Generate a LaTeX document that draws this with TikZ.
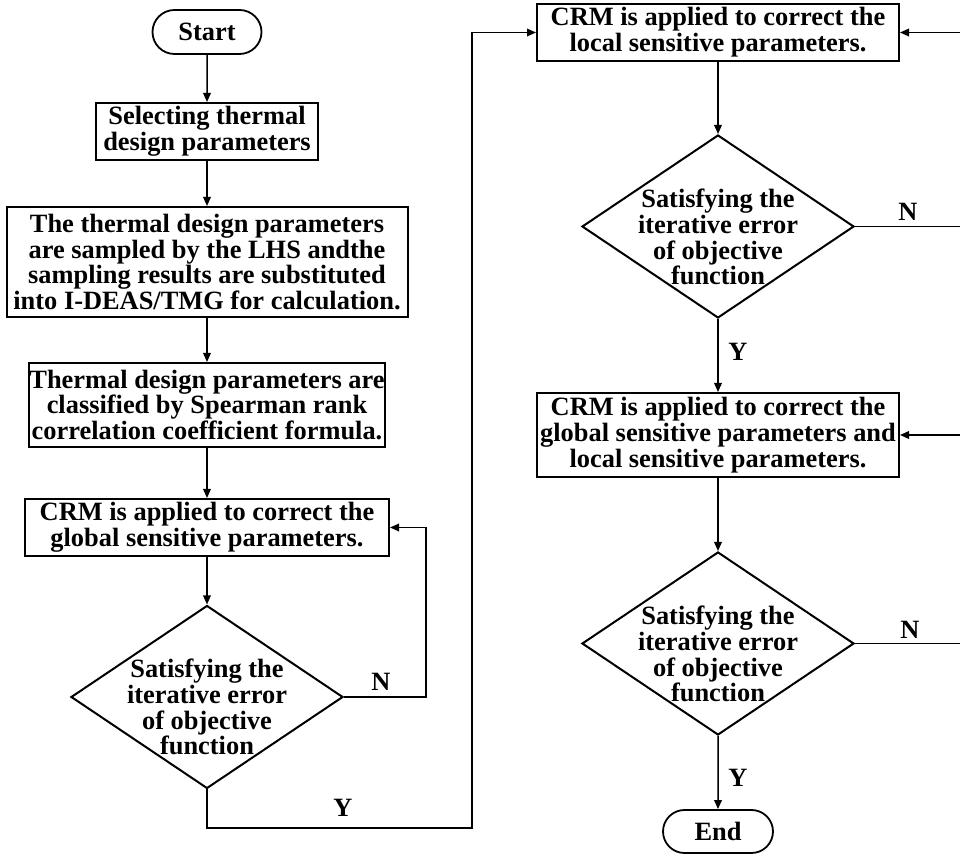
\documentclass[tikz,border=0pt]{standalone}
\usepackage{fontspec}
\setmainfont{Liberation Serif}
\usetikzlibrary{arrows.meta, positioning, shapes.geometric, shapes.misc}

\begin{document}
\begin{tikzpicture}[
    x=0.5pt, y=-0.5pt,
    every node/.style={font=\fontsize{13.2}{12.9}\selectfont\bfseries},
    process/.style={draw, line width=1pt, align=center, inner sep=0pt},
    terminal/.style={draw, rounded rectangle, line width=0.9pt, inner sep=0pt},
    decision/.style={draw, diamond, line width=1pt, inner sep=0pt, minimum width=136pt, minimum height=91.5pt},
    dectext/.style={align=center},
    flow/.style={-{Triangle[length=4.5pt,width=3.8pt]}, line width=0.75pt},
    branch/.style={inner sep=0pt}
]
    \useasboundingbox (0,0) rectangle (960,854);

    % Left column
    \node[terminal, minimum width=54.5pt, minimum height=22pt] (start) at (207,32) {Start};
    \node[process, minimum width=111pt, minimum height=28.5pt] (select) at (207,131.5)
        {Selecting thermal\\design parameters};
    \node[process, minimum width=200.5pt, minimum height=55pt] (sample) at (207,262)
        {The thermal design parameters\\are sampled by the LHS andthe\\sampling results are substituted\\into I-DEAS/TMG for calculation.};
    \node[process, minimum width=176pt, minimum height=42pt] (classify) at (207,405)
        {Thermal design parameters are\\classified by Spearman rank\\correlation coefficient formula.};
    \node[process, minimum width=182pt, minimum height=28.5pt] (global) at (207,527.5)
        {CRM is applied to correct the\\global sensitive parameters.};
    \node[decision] (checkA) at (207,697) {};
    \node[dectext] (checkAtext) at (207,707) {Satisfying the\\iterative error\\of objective\\function};

    % Right column
    \node[process, minimum width=181pt, minimum height=28.5pt] (local) at (718,32.5)
        {CRM is applied to correct the\\local sensitive parameters.};
    \node[decision] (checkB) at (718,226.5) {};
    \node[dectext] (checkBtext) at (718,237) {Satisfying the\\iterative error\\of objective\\function};
    \node[process, minimum width=181pt, minimum height=42pt] (both) at (718,435)
        {CRM is applied to correct the\\global sensitive parameters and\\local sensitive parameters.};
    \node[decision] (checkC) at (718,643.5) {};
    \node[dectext] (checkCtext) at (718,654) {Satisfying the\\iterative error\\of objective\\function};
    \node[terminal, minimum width=55pt, minimum height=21.5pt] (finish) at (718,831.5) {End};

    % Turning points
    \coordinate (loopA) at (426,697);
    \coordinate (yesA) at (472,828);
    \coordinate (loopB) at (963,226.5);
    \coordinate (loopC) at (963,643.5);

    % Main flow
    \draw[flow] (start) -- (select);
    \draw[flow] (select) -- (sample);
    \draw[flow] (sample) -- (classify);
    \draw[flow] (classify) -- (global);
    \draw[flow] (global) -- (checkA);
    \draw[flow] (checkA.south) |- (yesA) |- (local.west);
    \draw[flow] (local) -- (checkB);
    \draw[flow] (checkB) -- (both);
    \draw[flow] (both) -- (checkC);
    \draw[flow] (checkC) -- (finish);

    % Loops back
    \draw[flow] (checkA.east) -- (loopA) |- (global.east);
    \draw[flow] (checkB.east) -- (loopB) |- (local.east);
    \draw[flow] (checkC.east) -- (loopC) |- (both.east);

    % Branch labels
    \node[branch] (nA) at (381,682) {N};
    \node[branch] (yA) at (343,808) {Y};
    \node[branch] (nB) at (908,212) {N};
    \node[branch] (yB) at (738,352) {Y};
    \node[branch] (nC) at (910,630) {N};
    \node[branch] (yC) at (738,778) {Y};
\end{tikzpicture}
\end{document}
